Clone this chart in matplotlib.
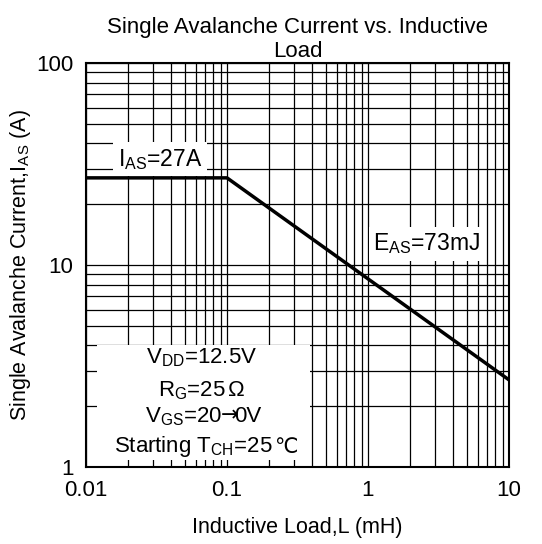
import matplotlib
matplotlib.use("Agg")
import matplotlib.pyplot as plt
from matplotlib.patches import Rectangle

plt.rcParams['font.family'] = ['Liberation Sans', 'DejaVu Sans']
plt.rcParams['mathtext.fontset'] = 'custom'
plt.rcParams['mathtext.rm'] = 'Liberation Sans'
plt.rcParams['mathtext.it'] = 'Liberation Sans'

# Data
inductance_mH = [0.01, 0.1, 10]
current_A = [27, 27, 2.7]
x_ticks = [0.01, 0.1, 1, 10]
x_tick_labels = ["0.01", "0.1", "1", "10"]
y_ticks = [1, 10, 100]
y_tick_labels = ["1", "10", "100"]

fig = plt.figure(figsize=(5.42, 5.44), dpi=100)
ax = fig.add_axes([86/542, 1-467/544, 423/542, 404/544])

ax.set_xscale('log')
ax.set_yscale('log')
ax.set_xlim(0.01, 10)
ax.set_ylim(1, 100)

ax.grid(True, which='both', color='black', linewidth=0.9)
ax.set_axisbelow(True)

ax.plot(inductance_mH, current_A, color='black', linewidth=2.5, zorder=3)

ax.set_xticks(x_ticks)
ax.set_xticklabels(x_tick_labels)
ax.set_yticks(y_ticks)
ax.set_yticklabels(y_tick_labels)
ax.tick_params(which='both', length=0, labelsize=16, pad=9)
for s in ax.spines.values():
    s.set_linewidth(1.5)
    s.set_zorder(5)

ax.set_title("Single Avalanche Current vs. Inductive\nLoad", fontsize=16, pad=4, linespacing=1.2)
ax.set_xlabel("Inductive Load,L (mH)", fontsize=15.5, labelpad=12)
ax.set_ylabel(r"Single Avalanche Current,I$_{\rm AS}$ (A)", fontsize=15.5, labelpad=0)
ax.yaxis.set_label_coords(-0.125, 0.5)

box = dict(boxstyle='square,pad=0.2', facecolor='white', edgecolor='none')
ax.text(0.175, 0.762, r"I$_{\rm AS}$=27A", transform=ax.transAxes, fontsize=16.5,
        ha='center', va='center', bbox=box, zorder=4)
ax.text(0.806, 0.552, r"E$_{\rm AS}$=73mJ", transform=ax.transAxes, fontsize=16.5,
        ha='center', va='center', bbox=box, zorder=4)

ax.add_patch(Rectangle((0.026, 0.017), 0.504, 0.285, transform=ax.transAxes,
                       facecolor='white', edgecolor='none', zorder=2.5))
lines = [r"V$_{\rm DD}$=12.5V", r"R$_{\rm G}$=25$\,$Ω"]
ys = [0.27, 0.19]
for t, yy in zip(lines, ys):
    ax.text(0.274, yy, t, transform=ax.transAxes, fontsize=16, ha='center', va='center', zorder=4)

# V_GS line composed of pieces (arrow glyph as in reference)
t1 = ax.text(0.139, 0.124, r"V$_{\rm GS}$=20", transform=ax.transAxes, fontsize=16,
             ha='left', va='center', zorder=4)
t2 = ax.annotate("→", xy=(1, 0.5), xycoords=t1, xytext=(-1, 1), textcoords='offset points',
                 ha='left', va='center', fontsize=15, family=['DejaVu Sans'], zorder=4)
ax.annotate("0V", xy=(1, 0.5), xycoords=t2, xytext=(-3, -1), textcoords='offset points',
            ha='left', va='center', fontsize=16, zorder=4)

t4 = ax.text(0.254, 0.05, r"Starting T$_{\rm CH}$=25", transform=ax.transAxes, fontsize=16,
             ha='center', va='center', zorder=4)
ax.annotate("℃", xy=(1, 0.5), xycoords=t4, xytext=(1, 0), textcoords='offset points',
            ha='left', va='center', fontsize=15, family=['DejaVu Sans'], zorder=4)

fig.savefig("out.png", dpi=100)
